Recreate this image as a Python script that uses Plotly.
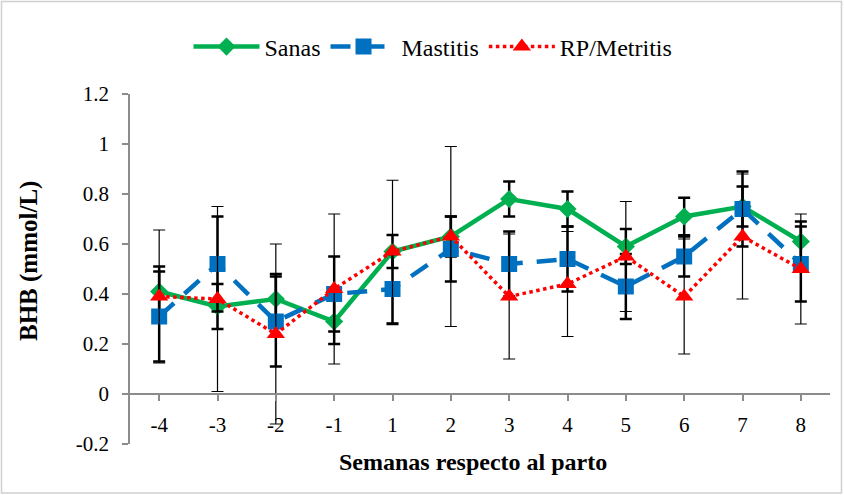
import plotly.graph_objects as go

weeks = ["-4", "-3", "-2", "-1", "1", "2", "3", "4", "5", "6", "7", "8"]
sanas = [0.41, 0.35, 0.38, 0.29, 0.57, 0.63, 0.78, 0.74, 0.59, 0.71, 0.75, 0.61]
sanas_err = [0.10, 0.09, 0.10, 0.09, 0.066, 0.08, 0.07, 0.07, 0.07, 0.075, 0.08, 0.08]
mastitis = [0.31, 0.52, 0.29, 0.40, 0.42, 0.58, 0.52, 0.54, 0.43, 0.55, 0.74, 0.52]
mastitis_err = [0.18, 0.19, 0.18, 0.15, 0.14, 0.13, 0.13, 0.13, 0.13, 0.08, 0.15, 0.15]
rp = [0.39, 0.38, 0.24, 0.42, 0.57, 0.63, 0.39, 0.44, 0.55, 0.39, 0.63, 0.50]
rp_err = [0.266, 0.37, 0.36, 0.30, 0.285, 0.36, 0.25, 0.21, 0.22, 0.23, 0.25, 0.22]
y_ticks = [-0.2, 0, 0.2, 0.4, 0.6, 0.8, 1, 1.2]
y_ticklabels = ["-0.2", "0", "0.2", "0.4", "0.6", "0.8", "1", "1.2"]

xpos = list(range(len(weeks)))
FONT = "Liberation Serif, Times New Roman, serif"

fig = go.Figure()
fig.add_trace(go.Scatter(
    x=xpos, y=sanas, name="Sanas", mode="lines+markers",
    line=dict(color="#00B050", width=4.5),
    marker=dict(symbol="diamond", size=14, color="#00B050"),
    error_y=dict(type="data", array=sanas_err, color="black", thickness=2.5, width=6),
))
fig.add_trace(go.Scatter(
    x=xpos, y=mastitis, name="Mastitis", mode="lines+markers",
    line=dict(color="#0070C0", width=4.5, dash="20px,14px"),
    marker=dict(symbol="square", size=16, color="#0070C0"),
    error_y=dict(type="data", array=mastitis_err, color="black", thickness=2.5, width=6),
))
fig.add_trace(go.Scatter(
    x=xpos, y=rp, name="RP/Metritis", mode="lines+markers",
    line=dict(color="#FF0000", width=3.5, dash="dot"),
    marker=dict(symbol="triangle-up", size=16, color="#FF0000"),
    error_y=dict(type="data", array=rp_err, color="black", thickness=1.2, width=6),
))

L, R, T, B = 130, 14, 94, 51
W, H = 844, 495
pw, ph = W - L - R, H - T - B

def px(xp):
    return (xp - L) / pw

def py(yp):
    return (H - B - yp) / ph

fig.update_layout(
    width=W, height=H,
    margin=dict(l=L, r=R, t=T, b=B, autoexpand=False),
    paper_bgcolor="white", plot_bgcolor="white",
    font=dict(family=FONT, size=21, color="black"),
    showlegend=True,
    legend=dict(orientation="h", x=px(433), xanchor="center", y=py(47), yanchor="middle",
                font=dict(family=FONT, size=24), itemwidth=66, tracegroupgap=0),
    xaxis=dict(
        tickmode="array", tickvals=xpos, ticktext=weeks, range=[-0.5, 11.5],
        anchor="free", position=0.2 / 1.4,
        showline=True, linecolor="#8c8c8c", linewidth=1.5,
        ticks="outside", tickson="boundaries", ticklen=6, tickcolor="#8c8c8c", tickwidth=1.5,
        showgrid=False, zeroline=False, ticklabelstandoff=6,
        tickfont=dict(family=FONT, size=21),
    ),
    yaxis=dict(
        range=[-0.2, 1.2], tickmode="array", tickvals=y_ticks, ticktext=y_ticklabels,
        showline=True, linecolor="#8c8c8c", linewidth=1.5,
        ticks="outside", ticklen=6, tickcolor="#8c8c8c", tickwidth=1.5,
        showgrid=False, zeroline=False, ticklabelstandoff=9,
        tickfont=dict(family=FONT, size=21),
    ),
    annotations=[
        dict(text="<b>Semanas respecto al parto</b>", xref="paper", yref="paper",
             x=px(473), y=py(462), xanchor="center", yanchor="middle",
             showarrow=False, font=dict(family=FONT, size=24)),
        dict(text="<b>BHB (mmol/L)</b>", xref="paper", yref="paper",
             x=px(29), y=py(261), xanchor="center", yanchor="middle",
             showarrow=False, textangle=-90, font=dict(family=FONT, size=25)),
    ],
    shapes=[
        dict(type="rect", xref="paper", yref="paper",
             x0=px(1.5), x1=px(841.5), y0=py(493), y1=py(1.5),
             line=dict(color="#d0d0d0", width=1.5), fillcolor="rgba(0,0,0,0)", layer="below"),
    ],
)

fig.write_html("out.html", config={"displayModeBar": False},
               post_script="document.body.style.margin='0';document.body.style.overflow='hidden';")
